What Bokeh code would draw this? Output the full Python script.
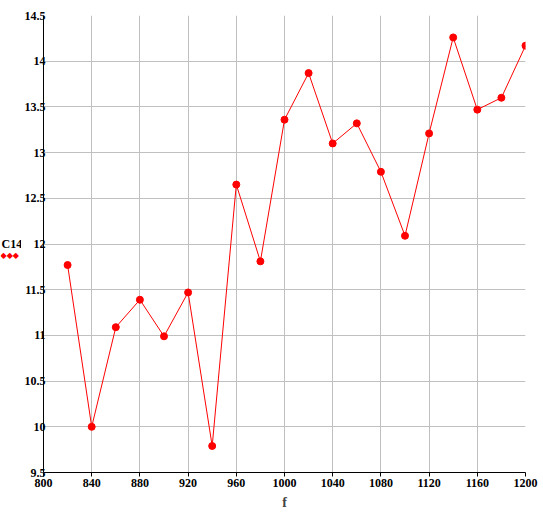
from bokeh.plotting import figure
from bokeh.models import FixedTicker, Range1d, Label
from bokeh.layouts import row
from bokeh.embed import file_html
from bokeh.resources import INLINE

freq = [820, 840, 860, 880, 900, 920, 940, 960, 980, 1000, 1020, 1040, 1060,
        1080, 1100, 1120, 1140, 1160, 1180, 1200]
c14 = [11.77, 10.0, 11.09, 11.39, 10.99, 11.47, 9.79, 12.65, 11.81, 13.36, 13.87,
       13.10, 13.32, 12.79, 12.09, 13.21, 14.26, 13.47, 13.60, 14.17]
x_ticks = [800, 840, 880, 920, 960, 1000, 1040, 1080, 1120, 1160, 1200]
y_ticks = [9.5, 10, 10.5, 11, 11.5, 12, 12.5, 13, 13.5, 14, 14.5]
y_tick_labels = ["9.5", "10", "10.5", "11", "11.5", "12", "12.5", "13", "13.5", "14", "14.5"]
series_name = "C14"
x_title = "f"

FONT = "Liberation Serif"
LEG_W = 21

# legend panel on the left (its frame is aligned with the main frame by the row)
leg = figure(width=LEG_W, height=512, output_backend="svg", toolbar_location=None,
             x_range=Range1d(0, LEG_W), y_range=Range1d(0, 512), min_border=0)
leg.outline_line_color = None
leg.axis.visible = False
leg.grid.visible = False
leg.add_layout(Label(x=1, y=229, x_units="screen", y_units="screen", text=series_name,
                     text_font=FONT, text_font_style="bold", text_font_size="12px",
                     text_color="black", text_baseline="middle"))
leg.add_layout(Label(x=0, y=217, x_units="screen", y_units="screen", text="\u25c6\u25c6\u25c6",
                     text_font="DejaVu Sans", text_font_size="8px",
                     text_color="#ff0000", text_baseline="middle"))

p = figure(width=543 - LEG_W, height=512, output_backend="svg", toolbar_location=None,
           x_range=Range1d(800, 1200), y_range=Range1d(9.5, 14.5),
           min_border_left=0, min_border_right=18, min_border_top=15, min_border_bottom=39)
p.outline_line_color = None
p.background_fill_color = "white"
p.border_fill_color = "white"

p.line(freq, c14, line_color="#ff0000", line_width=1)
p.scatter(freq, c14, marker="circle", size=7, fill_color="#ff0000", line_color="#ff0000")

for ax in (p.xaxis[0], p.yaxis[0]):
    ax.axis_line_color = "black"
    ax.major_label_text_font = FONT
    ax.major_label_text_font_style = "bold"
    ax.major_label_text_font_size = "12px"
    ax.major_label_text_color = "black"
    ax.minor_tick_line_color = None
    ax.major_tick_line_color = "black"

p.xaxis.ticker = FixedTicker(ticks=x_ticks)
p.xaxis.major_tick_out = 4
p.xaxis.major_tick_in = 0
p.xaxis.major_label_standoff = 2
p.xaxis.axis_label = x_title
p.xaxis.axis_label_text_font = FONT
p.xaxis.axis_label_text_font_style = "bold"
p.xaxis.axis_label_text_font_size = "14px"
p.xaxis.axis_label_standoff = 5

p.yaxis.ticker = FixedTicker(ticks=y_ticks)
p.yaxis.major_label_overrides = {t: l for t, l in zip(y_ticks, y_tick_labels)}
p.yaxis.major_tick_out = 0
p.yaxis.major_tick_in = 0
p.yaxis.major_label_standoff = -2

p.xgrid.ticker = FixedTicker(ticks=x_ticks)
p.ygrid.ticker = FixedTicker(ticks=y_ticks)
p.grid.grid_line_color = "#c0c0c0"
p.grid.grid_line_width = 1

layout = row(leg, p, spacing=0)
open("out.html", "w").write(file_html(layout, INLINE))
